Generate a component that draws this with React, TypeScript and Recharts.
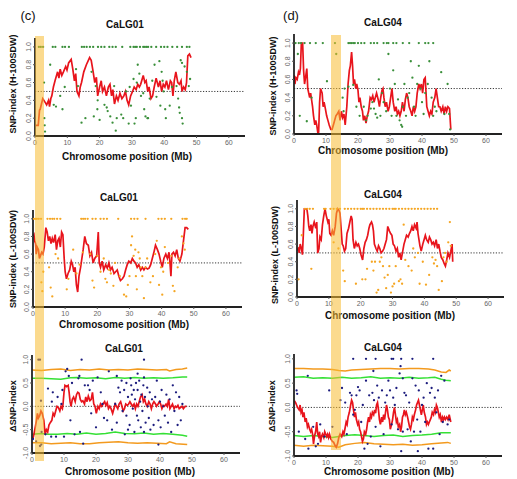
import React from 'react';
import { ComposedChart, Line, Scatter, XAxis, YAxis, ReferenceLine } from 'recharts';

type Pt = [number, number];

const xTicks = [0, 10, 20, 30, 40, 50, 60];
const snpTicks = [0, 0.2, 0.4, 0.6, 0.8, 1.0];
const deltaTicks = [-1, -0.5, 0, 0.5, 1];
const titles = ['CaLG01', 'CaLG04'];
const yLabels = ['SNP-index (H-100SDW)', 'SNP-index (L-100SDW)', '\u0394SNP-index'];
const xLabel = 'Chromosome position (Mb)';
const panelTags = ['(c)', '(d)'];
const bandC: Pt = [0, 2.8];
const bandD: Pt = [11.5, 14.7];

// ---- CaLG01, H-100SDW
const c1Line: Pt[] = [
  [0.3, 0.12], [1.0, 0.12], [1.4, 0.29], [1.6, 0.3], [2.4, 0.42], [3.1, 0.38], [3.6, 0.35], [4.2, 0.4], [4.5, 0.33],
  [4.9, 0.42], [5.2, 0.45], [5.7, 0.55], [6.2, 0.62], [7.0, 0.72], [7.4, 0.65], [7.8, 0.75], [8.3, 0.68], [8.8, 0.72],
  [9.5, 0.78], [9.9, 0.74], [10.4, 0.82], [11.2, 0.86], [11.7, 0.75], [12.2, 0.62], [12.6, 0.7], [13.0, 0.5],
  [13.6, 0.45], [14.0, 0.55], [14.4, 0.6], [15.1, 0.72], [15.9, 0.8], [16.9, 0.88], [17.4, 0.85], [18.0, 0.72],
  [18.5, 0.6], [19.0, 0.66], [19.4, 0.45], [20.0, 0.55], [20.5, 0.62], [20.9, 0.5], [21.5, 0.55], [22.1, 0.45],
  [22.7, 0.55], [23.2, 0.58], [23.7, 0.45], [24.1, 0.52], [24.6, 0.36], [25.2, 0.45], [25.7, 0.4], [26.3, 0.48],
  [26.9, 0.42], [27.5, 0.45], [28.0, 0.5], [28.5, 0.4], [29.0, 0.35], [29.6, 0.45], [30.2, 0.5], [30.7, 0.55],
  [31.3, 0.52], [31.8, 0.58], [32.3, 0.55], [32.7, 0.58], [33.5, 0.68], [34.0, 0.6], [34.4, 0.62], [34.9, 0.5],
  [35.3, 0.55], [35.9, 0.42], [36.4, 0.45], [36.9, 0.55], [37.5, 0.65], [38.2, 0.55], [38.7, 0.62], [39.2, 0.5],
  [39.7, 0.58], [40.2, 0.55], [40.7, 0.62], [41.3, 0.52], [41.9, 0.62], [42.3, 0.6], [42.7, 0.45], [43.1, 0.62],
  [43.6, 0.72], [44.2, 0.6], [44.7, 0.58], [45.2, 0.62], [45.5, 0.5], [46.0, 0.55], [46.5, 0.52], [46.9, 0.6],
  [47.3, 0.9], [47.8, 0.92], [48.3, 0.88],
];
const c1Fixed = [1.2, 1.8, 2.5, 5.5, 6.3, 8.5, 9.3, 10.5, 14.5, 15.2, 16, 17, 18, 19.5, 20.5, 21.5, 23, 24, 25, 27,
  29.5, 30.5, 31, 31.5, 32.5, 33.5, 34, 34.5, 35, 36, 37.5, 39, 40, 41, 42.5, 44, 45.5, 47, 47.8];
const c1Dots: Pt[] = [
  [2.8, 0.6], [2.9, 0.2], [3.0, 0.12], [3.1, 0.05], [4.7, 0.8], [5.8, 0.35], [6.5, 0.33], [7.8, 0.45], [8.5, 0.3],
  [9.2, 0.55], [12.7, 0.75], [13.3, 0.56], [14.4, 0.15], [15.6, 0.2], [17.5, 0.72], [18.2, 0.22], [18.8, 0.56],
  [19.4, 0.4], [19.3, 0.3], [20, 0.18], [21.5, 0.35], [22.2, 0.32], [22.5, 0.28], [23.3, 0.22], [24, 0.15],
  [24.5, 0.56], [25, 0.06], [25.3, 0.2], [26.7, 0.24], [27.3, 0.2], [28.2, 0.5], [29.0, 0.14], [29.3, 0.55],
  [29.7, 0.34], [30.5, 0.64], [30.8, 0.14], [31.2, 0.2], [31.5, 0.6], [31.8, 0.8], [32.3, 0.7], [32.8, 0.45],
  [33.5, 0.48], [33.8, 0.3], [34.2, 0.22], [34.8, 0.2], [35.0, 0.2], [35.5, 0.42], [36.3, 0.62], [37, 0.8],
  [37.6, 0.44], [38.5, 0.84], [38.8, 0.34], [39.2, 0.72], [39.5, 0.62], [39.8, 0.5], [40.3, 0.3], [40.5, 0.2],
  [41.7, 0.34], [42.4, 0.55], [43.8, 0.56], [44.3, 0.42], [44.6, 0.32], [44.8, 0.26], [45.1, 0.85], [45.5, 0.82],
  [45.5, 0.2], [45.7, 0.14], [46.3, 0.78], [47, 0.72], [47.6, 0.56], [48, 0.64],
];

// ---- CaLG01, L-100SDW
const c2Line: Pt[] = [
  [0.0, 0.8], [0.3, 0.82], [0.5, 0.75], [0.8, 0.72], [1.0, 0.6], [1.3, 0.68], [1.7, 0.65], [2.0, 0.55], [2.3, 0.58],
  [2.7, 0.62], [3.1, 0.6], [3.5, 0.68], [4.0, 0.9], [4.4, 0.85], [4.8, 0.75], [5.2, 0.8], [5.6, 0.72], [6.0, 0.78],
  [6.4, 0.73], [6.9, 0.82], [7.3, 0.65], [7.7, 0.75], [8.1, 0.78], [8.5, 0.68], [8.9, 0.85], [9.3, 0.82], [9.7, 0.55],
  [10.0, 0.4], [10.4, 0.32], [10.9, 0.38], [11.4, 0.42], [11.9, 0.52], [12.3, 0.48], [12.7, 0.4], [13.1, 0.45],
  [13.5, 0.25], [13.9, 0.17], [14.3, 0.35], [14.8, 0.45], [15.2, 0.55], [15.6, 0.65], [16.1, 0.8], [16.6, 0.72],
  [17.2, 0.7], [17.7, 0.58], [18.2, 0.62], [18.7, 0.5], [19.2, 0.55], [19.8, 0.58], [20.3, 0.85], [20.6, 0.5],
  [21.0, 0.45], [21.5, 0.52], [22.0, 0.42], [22.6, 0.48], [23.1, 0.44], [23.6, 0.5], [24.1, 0.42], [24.6, 0.45],
  [25.2, 0.38], [25.7, 0.4], [26.2, 0.42], [26.7, 0.35], [27.2, 0.3], [27.8, 0.32], [28.3, 0.35], [28.8, 0.42],
  [29.3, 0.48], [29.8, 0.52], [30.4, 0.5], [30.9, 0.55], [31.4, 0.52], [31.9, 0.5], [32.4, 0.45], [32.9, 0.48],
  [33.5, 0.42], [34.0, 0.45], [34.5, 0.42], [35.0, 0.45], [35.6, 0.43], [36.1, 0.44], [36.6, 0.48], [37.1, 0.55],
  [37.6, 0.62], [38.1, 0.7], [38.7, 0.65], [39.2, 0.6], [39.7, 0.52], [40.2, 0.45], [40.7, 0.55], [41.3, 0.6],
  [41.8, 0.55], [42.3, 0.62], [42.6, 0.5], [42.9, 0.35], [43.2, 0.6], [43.7, 0.62], [44.2, 0.58], [44.7, 0.65],
  [45.2, 0.55], [45.7, 0.52], [46.3, 0.6], [46.8, 0.75], [47.3, 0.9], [47.8, 0.9], [48.3, 0.88],
];
const c2Fixed = [0.3, 0.8, 1.2, 1.8, 2.5, 4.5, 5.3, 6, 6.6, 7.5, 8.5, 15, 15.6, 16.2, 17, 18.5, 19.5, 21, 22, 23,
  26.5, 30.5, 31.5, 32.5, 35, 39, 40, 41, 43, 46.5, 47.3, 47.8];
const c2Dots: Pt[] = [
  [2.6, 0.28], [2.9, 0.18], [3.2, 0.4], [5, 0.45], [5.5, 0.22], [6, 0.12], [7, 0.6], [7.8, 0.55], [10.5, 0.2],
  [11, 0.32], [12.5, 0.65], [13.5, 0.38], [14.5, 0.48], [15.5, 0.62], [17.8, 0.6], [18.5, 0.3], [19, 0.22],
  [20, 0.58], [21, 0.4], [22, 0.55], [22.5, 0.32], [23, 0.28], [23.7, 0.42], [24.2, 0.38], [25, 0.24], [25.5, 0.5],
  [27, 0.35], [28.3, 0.14], [29, 0.12], [29.5, 0.25], [30, 0.35], [30.5, 0.7], [30.8, 0.8], [31.3, 0.58],
  [31.8, 0.65], [32, 0.35], [32.3, 0.2], [32.8, 0.62], [33.2, 0.55], [33.5, 0.45], [34, 0.35], [34.5, 0.1],
  [35, 0.45], [35.5, 0.55], [36.5, 0.28], [37.3, 0.35], [38, 0.6], [38.5, 0.75], [39.2, 0.25], [39.8, 0.45],
  [40.2, 0.14], [40.5, 0.4], [41, 0.68], [42, 0.5], [43, 0.58], [43.5, 0.24], [44, 0.18], [45, 0.45], [45.5, 0.55],
  [46.3, 0.8], [46.8, 0.72], [47.2, 0.65],
];

// ---- CaLG01, delta SNP-index
const c3Line: Pt[] = [
  [0.3, -0.69], [0.6, -0.6], [1.0, -0.45], [1.4, -0.3], [1.7, -0.15], [2.0, -0.25], [2.4, -0.2], [2.8, -0.1],
  [3.2, -0.15], [3.7, -0.3], [4.1, -0.6], [4.5, -0.5], [4.9, -0.55], [5.3, -0.4], [5.7, -0.35], [6.2, -0.3],
  [6.6, -0.15], [7.0, -0.2], [7.4, -0.1], [7.8, 0.0], [8.2, -0.02], [8.7, -0.1], [9.1, 0.0], [9.5, -0.05],
  [9.7, 0.05], [10.0, 0.3], [10.3, 0.45], [10.8, 0.42], [11.3, 0.45], [11.6, 0.3], [11.9, 0.1], [12.2, 0.0],
  [12.6, 0.15], [13.0, 0.2], [13.5, 0.1], [13.9, 0.25], [14.3, 0.3], [14.7, 0.28], [15.1, 0.15], [15.5, 0.1],
  [15.9, 0.12], [16.4, 0.05], [16.8, 0.2], [17.2, 0.1], [17.6, 0.22], [18.1, 0.12], [18.5, 0.15], [18.9, 0.3],
  [19.3, 0.05], [19.7, 0.0], [20.1, -0.15], [20.6, 0.0], [21.0, -0.05], [21.4, 0.05], [21.8, 0.0], [22.2, 0.05],
  [22.7, 0.1], [23.1, 0.02], [23.5, 0.08], [23.9, -0.05], [24.3, 0.0], [24.7, -0.05], [25.2, -0.15], [25.6, -0.05],
  [26.0, 0.05], [26.4, 0.0], [26.8, -0.05], [27.2, 0.05], [27.7, 0.1], [28.1, 0.0], [28.5, -0.1], [28.9, -0.05],
  [29.3, 0.05], [29.8, 0.02], [30.2, 0.05], [30.6, 0.1], [31.0, 0.05], [31.4, 0.0], [31.9, 0.05], [32.3, -0.05],
  [32.7, 0.05], [33.1, 0.0], [33.5, 0.1], [33.9, 0.2], [34.4, 0.25], [34.8, 0.1], [35.2, 0.15], [35.6, 0.05],
  [36.0, 0.0], [36.5, 0.1], [36.9, 0.05], [37.3, -0.05], [37.7, 0.05], [38.1, 0.1], [38.6, 0.05], [38.9, 0.0],
  [39.4, 0.05], [39.8, 0.1], [40.2, 0.05], [40.6, -0.05], [41.0, 0.02], [41.4, 0.0], [41.9, 0.05], [42.3, 0.0],
  [42.7, 0.15], [43.1, -0.05], [43.5, 0.0], [43.9, 0.05], [44.4, -0.05], [44.8, 0.0], [45.2, -0.02], [45.6, 0.02],
  [46.0, -0.05], [46.5, -0.02], [46.9, 0.0], [47.3, -0.05], [47.9, 0.0], [48.3, 0.0],
];
const c3Dots: Pt[] = [
  [2.0, 1.0], [2.5, 1.0], [15.5, 1.0], [35, 1.0], [0.3, -0.7], [1.3, -0.75], [2.8, 0.12], [2.5, -0.85],
  [2.9, -0.82], [3.0, -0.55], [4.2, -0.6], [5, 0.38], [6.2, 0.1], [6.5, 0.3], [7.5, -0.65], [8, 0.2], [9.2, 0.05],
  [9.5, 0.35], [10.5, 0.75], [11, 0.8], [11.5, 0.65], [12, -0.3], [12.5, 0.5], [13.3, -0.6], [14.5, 0.6],
  [14.8, 0.65], [15, -0.55], [16, -0.8], [16.5, 0.45], [17.5, 0.45], [18, 0.35], [19, 0.55], [20, -0.45],
  [21.5, 0.3], [22, 0.05], [22.5, -0.25], [23.5, -0.3], [24, 0.75], [25, -0.5], [26, 0.05], [26.5, -0.35],
  [27, 0.4], [27.5, 0.3], [28, 0.55], [28.3, -0.1], [28.8, 0.35], [29.5, 0.5], [29.5, -0.2], [30, 0.2],
  [30, -0.5], [30.5, -0.4], [30.8, 0.6], [31, 0.45], [31.2, 0.25], [31.5, -0.05], [31.8, 0.35], [32, -0.55],
  [32.2, 0.15], [32.5, 0.5], [32.8, -0.2], [33, 0.35], [33.2, -0.3], [33.5, 0.55], [33.8, 0.1], [34, -0.45],
  [34.2, 0.25], [34.5, -0.1], [34.8, 0.45], [35, -0.55], [35.3, 0.2], [35.5, -0.35], [36, 0.4], [36.2, 0.0],
  [36.5, -0.25], [36.8, 0.3], [37, -0.5], [37.5, 0.15], [38, -0.4], [38.5, 0.2], [39, 0.55], [39.5, -0.3],
  [40, 0.1], [40.2, -0.45], [40.5, 0.35], [41, 0.0], [41.5, -0.2], [42, 0.25], [42.5, -0.35], [43, 0.15],
  [43.5, -0.55], [44, 0.45], [44.5, -0.1], [45, 0.3], [45.5, -0.4], [46, 0.2], [46.5, -0.3], [47, 0.05],
  [18.5, -0.15], [20.5, 0.62], [26.5, 0.65], [33, 0.7], [35, 0.62], [39.5, -0.82], [29, -0.6], [10, -0.65], [6, -0.65],
];
const c3Up99: Pt[] = [[0, 0.78], [3, 0.77], [6, 0.79], [9, 0.8], [12, 0.77], [15, 0.79], [18, 0.78], [21, 0.8],
  [24, 0.78], [27, 0.79], [30, 0.78], [33, 0.8], [36, 0.79], [39, 0.78], [42, 0.79], [43, 0.76], [45, 0.79],
  [47, 0.8], [48.5, 0.82]];
const c3Up95: Pt[] = [[0, 0.6], [3, 0.6], [6, 0.59], [9, 0.58], [12, 0.61], [14, 0.62], [17, 0.6], [20, 0.61],
  [23, 0.59], [26, 0.62], [29, 0.6], [32, 0.62], [35, 0.6], [38, 0.61], [41, 0.6], [44, 0.61], [47, 0.63], [48.5, 0.63]];
const c3Lo95: Pt[] = [[0, -0.6], [3, -0.58], [5, -0.6], [8, -0.6], [11, -0.58], [14, -0.6], [17, -0.57], [20, -0.6],
  [23, -0.58], [26, -0.55], [29, -0.58], [32, -0.59], [35, -0.57], [38, -0.6], [41, -0.58], [44, -0.6],
  [47, -0.62], [48.5, -0.64]];
const c3Lo99: Pt[] = [[0, -0.78], [3, -0.78], [6, -0.8], [9, -0.79], [12, -0.78], [15, -0.8], [18, -0.8],
  [21, -0.78], [24, -0.77], [27, -0.76], [30, -0.78], [33, -0.79], [36, -0.78], [39, -0.79], [42, -0.8],
  [43, -0.76], [45, -0.8], [48.5, -0.82]];

// ---- CaLG04, H-100SDW
const d1Line: Pt[] = [
  [0.0, 0.65], [0.3, 0.55], [0.6, 0.62], [1.0, 0.6], [1.4, 0.68], [1.7, 0.65], [2.0, 0.72], [2.3, 1.0], [2.7, 1.0],
  [3.0, 0.7], [3.3, 0.55], [3.6, 0.62], [4.0, 0.72], [4.3, 0.5], [4.6, 0.45], [4.9, 0.4], [5.2, 0.45], [5.6, 0.35],
  [5.8, 0.3], [6.1, 0.2], [6.5, 0.1], [6.8, 0.15], [7.1, 0.1], [7.5, 0.0], [7.7, 0.02], [8.0, 0.35], [8.3, 0.5],
  [8.8, 0.45], [9.1, 0.3], [9.4, 0.35], [9.8, 0.28], [10.2, 0.2], [10.6, 0.15], [11.0, 0.1], [11.5, 0.05],
  [11.9, 0.05], [12.3, 0.1], [12.7, 0.15], [13.1, 0.2], [13.5, 0.22], [14.0, 0.25], [14.4, 0.15], [14.8, 0.25],
  [15.2, 0.18], [15.6, 0.22], [16.0, 0.1], [16.5, 0.3], [16.9, 0.55], [17.3, 0.7], [17.6, 0.75], [18.0, 0.9],
  [18.3, 0.75], [18.6, 0.55], [18.9, 0.6], [19.3, 0.5], [19.6, 0.55], [20.0, 0.48], [20.3, 0.35], [20.6, 0.4],
  [21.0, 0.3], [21.4, 0.25], [21.7, 0.15], [22.1, 0.2], [22.5, 0.12], [22.9, 0.2], [23.3, 0.25], [23.8, 0.4],
  [24.2, 0.38], [24.6, 0.42], [25.0, 0.35], [25.4, 0.4], [25.8, 0.45], [26.3, 0.38], [26.7, 0.3], [27.1, 0.4],
  [27.5, 0.48], [27.8, 0.5], [28.1, 0.4], [28.5, 0.3], [28.9, 0.35], [29.4, 0.25], [29.8, 0.3], [30.2, 0.4],
  [30.6, 0.5], [31.0, 0.35], [31.5, 0.25], [31.9, 0.3], [32.3, 0.22], [32.7, 0.25], [33.1, 0.2], [33.5, 0.25],
  [33.9, 0.35], [34.4, 0.25], [34.8, 0.38], [35.2, 0.45], [35.6, 0.4], [36.0, 0.3], [36.5, 0.25], [36.9, 0.2],
  [37.3, 0.3], [37.7, 0.25], [38.1, 0.3], [38.5, 0.45], [39.0, 0.55], [39.4, 0.5], [39.8, 0.55], [40.2, 0.45],
  [40.6, 0.6], [41.0, 0.62], [41.5, 0.3], [41.9, 0.25], [42.3, 0.2], [42.7, 0.25], [43.1, 0.22], [43.5, 0.35],
  [44.0, 0.4], [44.4, 0.5], [44.8, 0.4], [45.2, 0.3], [45.6, 0.3], [46.0, 0.25], [46.5, 0.3], [46.9, 0.22],
  [47.3, 0.3], [47.7, 0.25], [48.1, 0.3], [48.6, 0.28], [49.0, 0.05],
];
const d1Fixed = [0.5, 1.5, 2.2, 3.3, 5, 6.8, 9, 12.8, 17, 17.5, 18, 18.5, 19, 20, 21, 22, 24, 25, 26, 28, 29, 29.5,
  31, 32, 34, 36, 39, 41, 42, 43.5];
const d1Dots: Pt[] = [
  [1.2, 0.88], [1.8, 0.2], [4.0, 0.14], [5.5, 0.4], [10.3, 0.58], [13.2, 0.88], [15.2, 0.4], [15.5, 0.25],
  [15.8, 0.5], [17, 0.52], [18.5, 0.54], [19.5, 0.3], [20.5, 0.2], [21.8, 0.3], [22.5, 0.15], [23, 0.2], [24, 0.28],
  [24.5, 0.35], [25, 0.28], [25.5, 0.22], [26, 0.18], [26.5, 0.6], [27, 0.2], [27.5, 0.45], [28, 0.35],
  [28.8, 0.25], [29.5, 0.88], [30, 0.5], [30.5, 0.2], [31, 0.7], [31.5, 0.55], [32, 0.2], [32.5, 0.38],
  [33, 0.15], [33.5, 0.1], [33.8, 0.08], [34, 0.3], [34.5, 0.55], [35, 0.2], [35.5, 0.4], [36, 0.45], [36.5, 0.8],
  [37, 0.62], [37.5, 0.3], [38, 0.2], [38.5, 0.55], [39, 0.75], [39.5, 0.5], [40, 0.35], [40.5, 0.22], [41, 0.45],
  [41.8, 0.55], [42.3, 0.8], [43, 0.4], [43.5, 0.2], [44, 0.3], [44.5, 0.25], [46, 0.68], [47, 0.22], [48, 0.55],
  [48.5, 0.22], [48.8, 0.05],
];

// ---- CaLG04, L-100SDW
const d2Line: Pt[] = [
  [0.0, 0.53], [0.4, 0.55], [0.7, 0.5], [1.0, 0.6], [1.4, 0.55], [1.7, 0.48], [2.0, 0.72], [2.3, 1.0], [3.1, 1.0],
  [3.4, 0.92], [3.7, 0.8], [4.0, 0.75], [4.4, 0.82], [4.7, 0.72], [5.0, 0.8], [5.4, 0.85], [5.9, 0.78], [6.2, 0.85],
  [6.5, 0.5], [6.9, 0.55], [7.2, 0.68], [7.6, 0.65], [8.0, 0.82], [8.4, 0.92], [8.8, 1.0], [9.2, 0.92], [9.7, 0.85],
  [10.0, 0.88], [10.3, 0.72], [10.7, 0.7], [11.1, 0.75], [11.5, 0.7], [12.0, 0.8], [12.4, 0.95], [12.8, 1.0],
  [13.2, 0.98], [13.5, 0.95], [13.9, 0.75], [14.2, 0.6], [14.5, 0.58], [14.9, 0.52], [15.3, 0.55], [15.7, 0.72],
  [16.2, 0.78], [16.6, 0.85], [17.0, 0.92], [17.3, 0.88], [17.6, 0.65], [18.0, 0.55], [18.5, 0.62], [18.9, 0.58],
  [19.3, 0.6], [19.7, 0.55], [20.1, 0.48], [20.6, 0.42], [21.0, 0.55], [21.4, 0.62], [21.8, 0.65], [22.2, 0.7],
  [22.6, 0.78], [22.9, 0.82], [23.4, 0.85], [23.7, 0.82], [24.0, 0.75], [24.3, 0.6], [24.8, 0.55], [25.2, 0.52],
  [25.6, 0.58], [26.0, 0.55], [26.4, 0.5], [26.9, 0.52], [27.3, 0.55], [27.7, 0.6], [28.1, 0.65], [28.5, 0.8],
  [29.0, 0.75], [29.4, 0.72], [29.8, 0.7], [30.2, 0.6], [30.6, 0.58], [31.1, 0.52], [31.5, 0.55], [31.9, 0.45],
  [32.3, 0.5], [32.7, 0.42], [33.2, 0.52], [33.6, 0.6], [34.0, 0.65], [34.4, 0.7], [34.9, 0.68], [35.3, 0.72],
  [35.7, 0.75], [36.1, 0.8], [36.5, 0.75], [36.9, 0.82], [37.4, 0.78], [37.7, 0.85], [38.0, 0.72], [38.3, 0.65],
  [38.6, 0.58], [39.0, 0.52], [39.5, 0.6], [39.9, 0.65], [40.3, 0.7], [40.7, 0.65], [41.2, 0.62], [41.6, 0.68],
  [42.0, 0.65], [42.4, 0.6], [42.8, 0.62], [43.2, 0.58], [43.7, 0.65], [44.1, 0.55], [44.5, 0.6], [44.9, 0.52],
  [45.3, 0.45], [45.8, 0.42], [46.2, 0.38], [46.6, 0.35], [47.0, 0.42], [47.4, 0.5], [47.9, 0.45], [48.3, 0.52],
  [48.7, 0.6], [48.9, 0.4],
];
const d2Fixed = [2.5, 3.2, 4, 5, 8.5, 9, 10.5, 11.5, 12.5, 13.5, 15, 16, 17, 18, 19, 20, 20.5, 21, 22, 23, 24, 25,
  26, 27, 28, 29, 30, 30.5, 31, 32, 33, 34, 35, 36, 37, 38, 39, 40, 41, 42, 43, 44];
const d2Dots: Pt[] = [
  [0.5, 0.2], [1.5, 0.7], [4.5, 0.32], [11.5, 0.62], [13, 0.55], [14.5, 0.3], [15, 0.18], [18.5, 0.15],
  [20.5, 0.2], [21.5, 0.2], [22, 0.32], [23.5, 0.4], [24, 0.3], [24.5, 0.4], [25, 0.05], [25.5, 0.08], [26, 0.4],
  [26.5, 0.45], [27, 0.35], [27.5, 0.22], [28, 0.1], [28.5, 0.25], [29, 0.35], [29.5, 0.05], [30, 0.12],
  [30.5, 0.15], [31, 0.35], [32, 0.18], [32.5, 0.2], [33, 0.15], [33.5, 0.82], [34, 0.42], [35, 0.35], [36, 0.3],
  [36.5, 0.55], [37, 0.45], [38, 0.5], [38.5, 0.15], [39.5, 0.4], [40.5, 0.14], [41.5, 0.25], [42.5, 0.45],
  [43, 0.38], [43.5, 0.42], [44, 0.35], [44.5, 0.08], [45.5, 0.18], [46, 0.45], [46.5, 0.5], [47, 0.4],
  [47.5, 0.62], [48, 0.85], [48.3, 0.58],
];

// ---- CaLG04, delta SNP-index
const d3Line: Pt[] = [
  [0.1, 0.14], [0.5, 0.1], [0.8, 0.05], [1.1, 0.0], [1.6, -0.05], [1.9, 0.05], [2.2, -0.1], [2.5, -0.05], [2.8, -0.2],
  [3.1, -0.1], [3.5, -0.3], [3.8, -0.22], [4.2, -0.4], [4.5, -0.35], [4.9, -0.45], [5.2, -0.5], [5.5, -0.45],
  [5.8, -0.55], [6.1, -0.75], [6.4, -0.6], [6.8, -0.48], [7.1, -0.3], [7.4, -0.55], [7.7, -0.6], [8.0, -0.5],
  [8.3, -0.72], [8.6, -0.6], [8.9, -0.55], [9.3, -0.62], [9.6, -0.5], [9.9, -0.55], [10.2, -0.6], [10.5, -0.55],
  [10.8, -0.62], [11.1, -0.55], [11.5, -0.65], [12.0, -0.7], [12.4, -0.72], [12.8, -0.78], [13.2, -0.82],
  [13.6, -0.75], [14.0, -0.62], [14.4, -0.55], [14.9, -0.6], [15.3, -0.5], [15.6, -0.55], [15.9, -0.45],
  [16.3, -0.3], [16.6, -0.35], [16.9, -0.2], [17.3, -0.1], [17.7, 0.05], [18.0, 0.15], [18.3, 0.1], [18.6, -0.05],
  [18.9, -0.2], [19.2, -0.1], [19.5, -0.25], [19.9, -0.35], [20.2, -0.3], [20.5, -0.45], [20.8, -0.5], [21.1, -0.6],
  [21.4, -0.7], [21.7, -0.65], [22.0, -0.5], [22.4, -0.55], [22.7, -0.45], [23.0, -0.3], [23.3, -0.2], [23.6, -0.3],
  [23.9, -0.15], [24.2, -0.2], [24.5, -0.1], [24.9, -0.15], [25.2, -0.05], [25.5, -0.12], [25.8, 0.05],
  [26.1, 0.1], [26.4, -0.05], [26.7, -0.25], [27.0, -0.35], [27.4, -0.2], [27.7, -0.3], [28.0, -0.15],
  [28.3, -0.25], [28.6, -0.1], [28.9, 0.05], [29.2, -0.05], [29.5, -0.2], [29.8, -0.25], [30.1, -0.45],
  [30.5, -0.35], [30.8, -0.25], [31.1, -0.1], [31.4, 0.0], [31.7, -0.15], [32.0, -0.3], [32.3, -0.25],
  [32.6, -0.4], [33.0, -0.35], [33.3, -0.5], [33.6, -0.4], [33.9, -0.2], [34.2, -0.15], [34.5, -0.05],
  [34.8, -0.15], [35.1, -0.1], [35.5, -0.2], [35.8, -0.3], [36.1, -0.4], [36.4, -0.45], [36.7, -0.35],
  [37.0, -0.2], [37.3, -0.25], [37.6, -0.15], [38.0, -0.05], [38.3, 0.05], [38.6, 0.1], [38.9, 0.15],
  [39.2, 0.05], [39.5, -0.05], [39.8, -0.15], [40.1, -0.05], [40.4, 0.05], [40.7, -0.1], [41.1, -0.2],
  [41.4, -0.35], [41.7, -0.3], [42.0, -0.35], [42.3, -0.3], [42.6, -0.25], [42.9, -0.2], [43.2, -0.1],
  [43.6, -0.15], [43.9, -0.05], [44.2, -0.1], [44.5, 0.05], [44.8, 0.0], [45.1, -0.1], [45.4, -0.2],
  [45.7, -0.15], [46.1, -0.3], [46.4, -0.2], [46.7, -0.25], [47.0, -0.2], [47.3, -0.25], [47.7, -0.2],
  [48.1, -0.25], [48.5, -0.15], [49.0, -0.3],
];
const d3Dots: Pt[] = [
  [18.5, 1.0], [22.5, 1.0], [25.5, 1.0], [30.5, 1.0], [31, 1.0], [33.5, 1.0], [37, 1.0], [43.5, 1.0],
  [0.8, 0.35], [1, 0.28], [1.5, -0.5], [3.5, -0.65], [4.3, 0.65], [4.5, -0.85], [6, -0.4], [6.8, -0.8],
  [7.5, -0.75], [8.2, -0.35], [9.5, -0.6], [11, 0.35], [14.5, 0.15], [15, 0.4], [16.5, -0.55], [17.5, 0.3],
  [18, 0.25], [18.5, -0.15], [19, -0.05], [19.5, 0.25], [20, 0.42], [20.5, 0.35], [21, -0.3], [21.5, 0.05],
  [22, -0.85], [22.5, 0.55], [23, -0.75], [23.5, 0.25], [24, -0.6], [24.5, 0.3], [25, 0.15], [25.5, -0.4],
  [26, 0.45], [26.5, 0.2], [27, -0.8], [27.5, 0.35], [28, -0.55], [28.5, 0.1], [29, 0.25], [29.5, 0.55],
  [30, 0.35], [30.5, -0.35], [31, 0.2], [31.5, 0.05], [32, 0.4], [32.5, -0.45], [33, 0.7], [33.3, 0.85],
  [33.5, -0.9], [34, -0.5], [34.5, 0.3], [35, 0.25], [35.5, -0.45], [36, 0.1], [36.5, -0.7], [37, 0.6],
  [37.5, -0.5], [38, 0.45], [38.5, -0.25], [39, 0.35], [39.5, -0.5], [40, 0.05], [40.5, 0.2], [41, -0.3],
  [41.5, 0.5], [42, -0.85], [42.5, 0.3], [43, 0.4], [43.5, -0.85], [44, 0.2], [44.5, -0.1], [45, 0.35],
  [45.5, -0.55], [46, 0.65], [46.5, -0.3], [47, 0.55], [48, -0.35], [48.5, -0.25], [12, -0.4], [16, 0.1],
  [24.8, 0.75], [34, 0.6], [38.7, -0.9],
];
const d3Up99: Pt[] = [[0, 0.8], [3, 0.8], [6, 0.79], [9, 0.79], [12, 0.78], [14, 0.76], [16, 0.75], [18, 0.77],
  [21, 0.78], [24, 0.79], [27, 0.8], [30, 0.8], [33, 0.79], [36, 0.8], [39, 0.8], [42, 0.79], [44, 0.77],
  [46, 0.73], [47.5, 0.72], [48.5, 0.77], [49, 0.75]];
const d3Up95: Pt[] = [[0, 0.62], [3, 0.63], [6, 0.6], [9, 0.61], [12, 0.6], [15, 0.62], [18, 0.6], [21, 0.61],
  [24, 0.63], [27, 0.6], [30, 0.61], [33, 0.6], [36, 0.62], [39, 0.6], [42, 0.61], [44, 0.62], [46, 0.58],
  [47.5, 0.56], [49, 0.55]];
const d3Lo95: Pt[] = [[0, -0.58], [3, -0.6], [6, -0.58], [9, -0.6], [12, -0.62], [14, -0.6], [16, -0.58],
  [19, -0.56], [22, -0.58], [25, -0.6], [28, -0.58], [31, -0.57], [34, -0.6], [37, -0.58], [40, -0.57],
  [43, -0.55], [46, -0.52], [49, -0.52]];
const d3Lo99: Pt[] = [[0, -0.78], [3, -0.8], [6, -0.78], [9, -0.79], [12, -0.8], [14, -0.82], [16, -0.77],
  [19, -0.74], [22, -0.72], [25, -0.75], [28, -0.76], [31, -0.77], [34, -0.76], [37, -0.78], [40, -0.77],
  [43, -0.75], [46, -0.73], [48, -0.72], [49, -0.74]];

const RED = '#e8141c';
const GREEN_DOT = '#3a8f3a';
const ORANGE_DOT = '#f5a623';
const NAVY_DOT = '#1b1b7d';
const CI_GREEN = '#35e035';
const CI_ORANGE = '#f39a1e';
const FONT = '"Liberation Sans", Arial, Helvetica, sans-serif';
const Y_W = 22;
const X_H = 16;
const X_MAX = 65;

const toXY = (pts: Pt[]) => pts.map(([x, y]) => ({ x, y }));
const withFixed = (xs: number[], pts: Pt[]) => [...xs.map((x) => [x, 1] as Pt), ...pts];

const Dot = (props: any) => <circle cx={props.cx} cy={props.cy} r={1.15} fill={props.fill} />;

const YTick = ({ x, y, payload }: any) => (
  <text x={x} y={y} transform={`rotate(-90 ${x} ${y})`} textAnchor="middle" fontSize={7} fill="#666" fontFamily={FONT}>
    {Number(payload.value).toFixed(1)}
  </text>
);

const XTick = ({ x, y, payload }: any) => (
  <text x={x} y={y + 5} textAnchor="middle" fontSize={7} fill="#666" fontFamily={FONT}>
    {payload.value}
  </text>
);

interface PanelProps {
  left: number;
  top: number;
  w: number;
  h: number;
  delta?: boolean;
  line: Pt[];
  dots: Pt[];
  dotColor: string;
  bounds?: Pt[][];
}

function Panel({ left, top, w, h, delta, line, dots, dotColor, bounds }: PanelProps) {
  const domain: [number, number] = delta ? [-1, 1.1] : [0, 1.1];
  return (
    <div style={{ position: 'absolute', left: left - Y_W, top }}>
      <ComposedChart width={w + Y_W} height={h + X_H} margin={{ top: 0, right: 0, bottom: 0, left: 0 }}>
        <XAxis
          type="number"
          dataKey="x"
          domain={[0, X_MAX]}
          ticks={xTicks}
          interval={0}
          allowDataOverflow
          height={X_H}
          axisLine={{ stroke: '#222', strokeWidth: 1.8 }}
          tickLine={{ stroke: '#555' }}
          tickSize={2}
          tick={<XTick />}
        />
        <YAxis
          type="number"
          dataKey="y"
          domain={domain}
          ticks={delta ? deltaTicks : snpTicks}
          interval={0}
          allowDataOverflow
          width={Y_W}
          axisLine={{ stroke: '#222', strokeWidth: 1.8 }}
          tickLine={{ stroke: '#555' }}
          tickSize={2}
          tickMargin={2}
          tick={<YTick />}
        />
        <ReferenceLine y={delta ? 0 : 0.5} stroke="#222" strokeWidth={0.9} strokeDasharray="1.2 1.6" />
        {(bounds || []).map((b, i) => (
          <Line
            key={i}
            data={toXY(b)}
            dataKey="y"
            type="linear"
            stroke={i === 0 || i === 3 ? CI_ORANGE : CI_GREEN}
            strokeWidth={1.5}
            dot={false}
            isAnimationActive={false}
          />
        ))}
        <Scatter data={toXY(dots)} dataKey="y" fill={dotColor} shape={<Dot />} isAnimationActive={false} />
        <Line data={toXY(line)} dataKey="y" type="linear" stroke={RED} strokeWidth={1.7} dot={false} isAnimationActive={false} />
      </ComposedChart>
    </div>
  );
}

const Txt = ({ x, y, size, rot = 0, bold = true, children }: any) => (
  <div
    style={{
      position: 'absolute',
      left: x,
      top: y,
      transform: `translate(-50%, -50%) rotate(${rot}deg)`,
      whiteSpace: 'nowrap',
      fontWeight: bold ? 700 : 400,
      fontSize: size,
      lineHeight: 1,
      color: '#111',
    }}
  >
    {children}
  </div>
);

// band overlay: Mb range mapped through the top panel's x scale
const Band = ({ range, left, w, top, bottom }: any) => {
  const x0 = left + (range[0] / X_MAX) * w;
  const x1 = left + (range[1] / X_MAX) * w;
  return (
    <div
      style={{
        position: 'absolute',
        left: x0,
        width: x1 - x0,
        top,
        height: bottom - top,
        background: 'rgba(247, 188, 50, 0.55)',
        pointerEvents: 'none',
      }}
    />
  );
};

export default function App() {
  return (
    <div style={{ position: 'absolute', left: 0, top: 0, width: 517, height: 479, background: '#fff', fontFamily: FONT, overflow: 'hidden' }}>
      <Txt x={28} y={15} size={13} bold={false}>{panelTags[0]}</Txt>
      <Txt x={291} y={15} size={13} bold={false}>{panelTags[1]}</Txt>

      {/* left column: CaLG01 */}
      <Txt x={125} y={25} size={10}>{titles[0]}</Txt>
      <Panel left={35} top={38} w={210} h={98} line={c1Line} dots={withFixed(c1Fixed, c1Dots)} dotColor={GREEN_DOT} />
      <Txt x={13} y={84} size={9} rot={-90}>{yLabels[0]}</Txt>
      <Txt x={127} y={157} size={10}>{xLabel}</Txt>

      <Txt x={119} y={198} size={10}>{titles[0]}</Txt>
      <Panel left={33} top={210} w={209} h={97} line={c2Line} dots={withFixed(c2Fixed, c2Dots)} dotColor={ORANGE_DOT} />
      <Txt x={13} y={259} size={9} rot={-90}>{yLabels[1]}</Txt>
      <Txt x={124} y={325} size={10}>{xLabel}</Txt>

      <Txt x={124} y={349} size={10}>{titles[0]}</Txt>
      <Panel left={32} top={355} w={208} h={98} delta line={c3Line} dots={c3Dots} dotColor={NAVY_DOT}
        bounds={[c3Up99, c3Up95, c3Lo95, c3Lo99]} />
      <Txt x={13} y={406} size={9} rot={-90}>{yLabels[2]}</Txt>
      <Txt x={130} y={472} size={10}>{xLabel}</Txt>

      {/* right column: CaLG04 */}
      <Txt x={383} y={23} size={10}>{titles[1]}</Txt>
      <Panel left={294} top={34} w={208} h={100} line={d1Line} dots={withFixed(d1Fixed, d1Dots)} dotColor={GREEN_DOT} />
      <Txt x={273} y={86} size={9} rot={-90}>{yLabels[0]}</Txt>
      <Txt x={383} y={151} size={10}>{xLabel}</Txt>

      <Txt x={383} y={195} size={10}>{titles[1]}</Txt>
      <Panel left={297} top={200} w={207} h={97} line={d2Line} dots={withFixed(d2Fixed, d2Dots)} dotColor={ORANGE_DOT} />
      <Txt x={275} y={255} size={9} rot={-90}>{yLabels[1]}</Txt>
      <Txt x={390} y={316} size={10}>{xLabel}</Txt>

      <Txt x={383} y={348} size={10}>{titles[1]}</Txt>
      <Panel left={294} top={354} w={208} h={102} delta line={d3Line} dots={d3Dots} dotColor={NAVY_DOT}
        bounds={[d3Up99, d3Up95, d3Lo95, d3Lo99]} />
      <Txt x={272} y={406} size={9} rot={-90}>{yLabels[2]}</Txt>
      <Txt x={389} y={472} size={10}>{xLabel}</Txt>

      <Band range={bandC} left={35} w={210} top={36} bottom={461} />
      <Band range={bandD} left={294} w={208} top={35} bottom={450} />
    </div>
  );
}
